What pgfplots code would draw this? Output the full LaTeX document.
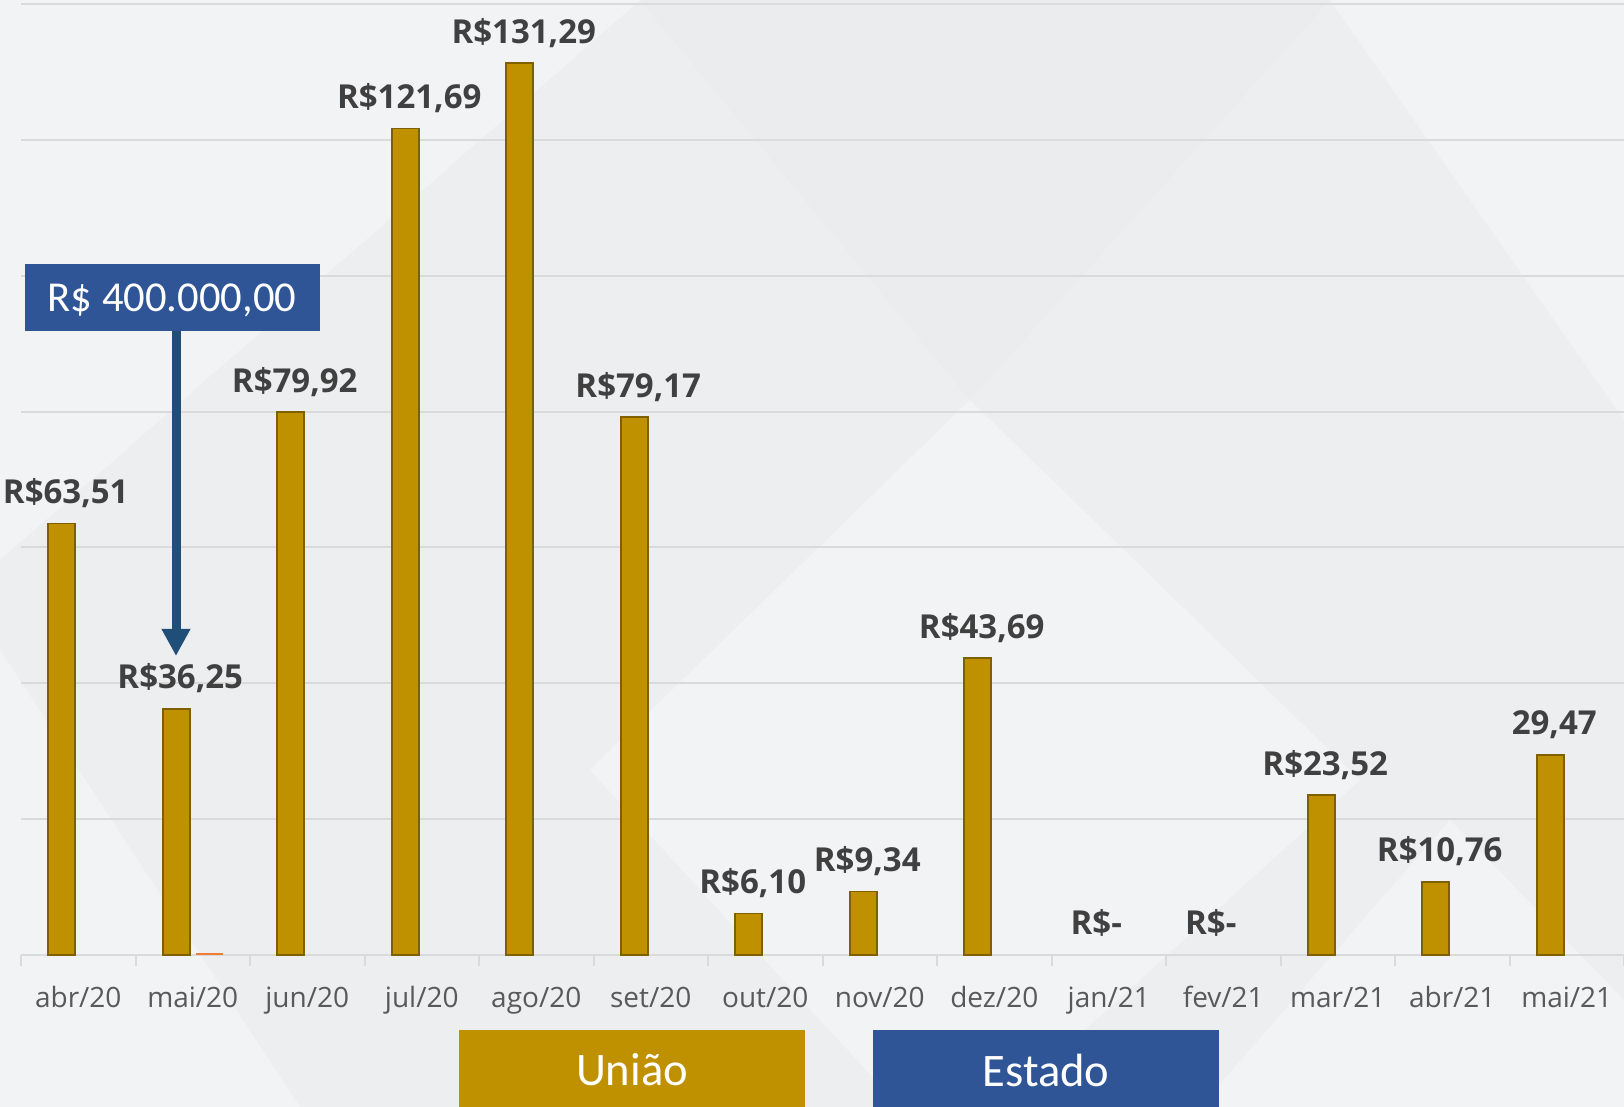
\documentclass[border=0pt]{standalone}
\usepackage{pgfplots}
\pgfplotsset{compat=1.18}
\usepackage{pgfplotstable}
\usepackage{fontspec}
\setmainfont{Open Sans}
\newfontfamily\calibri{Carlito}
\usetikzlibrary{arrows.meta}
\definecolor{gold}{HTML}{BF9000}
\definecolor{goldedge}{HTML}{7F6000}
\definecolor{boxblue}{HTML}{2F5597}
\definecolor{arrowblue}{HTML}{1F4E79}
\definecolor{orng}{HTML}{ED7D31}
\definecolor{bg}{HTML}{EDEEF0}
\definecolor{bglight}{HTML}{F2F3F5}
\definecolor{bgdark}{HTML}{EBECEE}
\definecolor{gridc}{HTML}{DADADA}
\definecolor{lbl}{HTML}{404040}
\definecolor{tickc}{HTML}{595959}

\pgfplotstableread{
x y lab
0 63.51 R\$63,51
1 36.25 R\$36,25
2 79.92 R\$79,92
3 121.69 R\$121,69
4 131.29 R\$131,29
5 79.17 R\$79,17
6 6.10 R\$6,10
7 9.34 R\$9,34
8 43.69 R\$43,69
11 23.52 R\$23,52
12 10.76 R\$10,76
13 29.47 29,47
}\uniao
\pgfplotstableread{
x y lab
9 0 R\$-
10 0 R\$-
}\zeros
\pgfplotstableread{
x y
1 0.3
}\estado

\begin{document}
\begin{tikzpicture}
% background (pixel coordinates, origin top-left)
\begin{scope}[x=0.5pt,y=-0.5pt,shift={(0pt,553.5pt)}]
\fill[bg] (0,0) rectangle (1624,1107);
\fill[bglight] (0,0) -- (640,0) -- (0,560) -- cycle;
\fill[bglight] (1330,0) -- (1624,0) -- (1624,420) -- cycle;
\fill[bglight] (590,770) -- (970,400) -- (1360,780) -- (1000,1107) -- (900,1107) -- cycle;
\fill[bglight] (0,650) -- (300,1107) -- (0,1107) -- cycle;
\fill[bglight] (1200,1107) -- (1450,820) -- (1624,1000) -- (1624,1107) -- cycle;
\fill[bgdark] (640,0) -- (1330,0) -- (970,400) -- cycle;
\end{scope}

\begin{axis}[
  at={(10.5pt,76pt)}, anchor=south west,
  scale only axis, width=801.5pt, height=477.5pt,
  xmin=-0.5, xmax=13.5, ymin=0, ymax=140.6,
  enlargelimits=false, clip=false,
  axis x line*=bottom, axis y line*=left,
  x axis line style={draw=gridc, line width=1pt},
  y axis line style={draw=none},
  ytick={0,20,...,140}, yticklabels={},
  ytick style={draw=none},
  ymajorgrids, grid style={draw=gridc, line width=1pt},
  xtick={0,...,13},
  xticklabels={abr/20,mai/20,jun/20,jul/20,ago/20,set/20,out/20,nov/20,dez/20,jan/21,fev/21,mar/21,abr/21,mai/21},
  major x tick style={draw=none},
  major tick length=0pt,
  minor xtick={-0.5,0.5,...,13.5},
  minor tick length=5.5pt,
  minor x tick style={draw=gridc, line width=1pt},
  tick align=outside,
  xticklabel style={font=\fontsize{14}{16}\selectfont, text=tickc, anchor=base, yshift=-26.5pt},
  point meta=explicit symbolic,
]
\addplot[ybar, bar width=13.5pt, bar shift=-8.25pt, fill=gold, draw=goldedge, line width=0.8pt,
  nodes near coords, nodes near coords style={font=\bfseries\fontsize{16.5}{18}\selectfont, text=lbl, anchor=base, yshift=10pt, xshift=-6.25pt}]
  table[x=x, y=y, meta=lab] {\uniao};
\addplot[ybar, bar width=13.5pt, bar shift=-8.25pt, draw=none, fill=none,
  nodes near coords, nodes near coords style={font=\bfseries\fontsize{16.5}{18}\selectfont, text=lbl, anchor=base, yshift=10pt, xshift=-6.25pt}]
  table[x=x, y=y, meta=lab] {\zeros};
\addplot[ybar, bar width=13.5pt, bar shift=8.25pt, fill=orng, draw=none]
  table[x=x, y=y, meta=x] {\estado};
\end{axis}

% annotations (pixel coordinates)
\begin{scope}[x=0.5pt,y=-0.5pt,shift={(0pt,553.5pt)}]
\fill[boxblue] (25,264) rectangle (320,331);
\node[anchor=base, text=white, font=\calibri\fontsize{21.3}{23}\selectfont, inner sep=0pt] at (172,312) {R\$ 400.000,00};
\draw[arrowblue, line width=4.5pt, -{Triangle[width=13.5pt,length=13.5pt]}] (176,331) -- (176,656);
\fill[gold] (459,1030) rectangle (805,1107);
\fill[boxblue] (873,1030) rectangle (1219,1107);
\node[anchor=base, text=white, font=\calibri\fontsize{23.3}{25}\selectfont, inner sep=0pt] at (632,1086) {União};
\node[anchor=base, text=white, font=\calibri\fontsize{23.3}{25}\selectfont, inner sep=0pt] at (1046,1087) {Estado};
\end{scope}
\pgfresetboundingbox
\path[use as bounding box] (0,0) rectangle (812pt,553.5pt);
\end{tikzpicture}
\end{document}
